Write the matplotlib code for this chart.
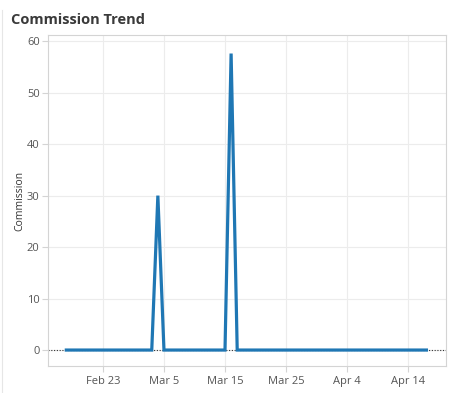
import matplotlib
matplotlib.use("Agg")
import matplotlib.pyplot as plt
import matplotlib.dates as mdates
import numpy as np
import pandas as pd

# Data
dates = pd.date_range("2013-02-17", "2013-04-17", freq="D")
spike_dates = ["2013-03-04", "2013-03-16"]
spike_values = [30.0, 57.6]
commission = pd.Series(0.0, index=dates)
for d, v in zip(spike_dates, spike_values):
    commission[pd.Timestamp(d)] = v

tick_dates = ["2013-02-23", "2013-03-05", "2013-03-15", "2013-03-25", "2013-04-04", "2013-04-14"]
tick_labels = ["Feb 23", "Mar 5", "Mar 15", "Mar 25", "Apr 4", "Apr 14"]
y_ticks = [0, 10, 20, 30, 40, 50, 60]

plt.rcParams['font.family'] = ['Open Sans', 'DejaVu Sans']

fig = plt.figure(figsize=(4.61, 3.93), dpi=100)
ax = fig.add_axes([48/461, 27/393, 398/461, 331/393])

ax.plot(commission.index, commission.values, color="#1f77b4", lw=2.3,
        solid_joinstyle="miter", zorder=3)
ax.axhline(0, color="#333333", lw=0.8, ls=(0, (1, 1.5)), zorder=2)

ax.set_xlim(pd.Timestamp("2013-02-14"), pd.Timestamp("2013-04-20 05:00"))
ax.set_ylim(-3.1, 61.2)

ax.set_xticks([pd.Timestamp(t) for t in tick_dates])
ax.set_xticklabels(tick_labels)
ax.set_yticks(y_ticks)

ax.grid(True, color="#ececec", lw=0.8, zorder=0)
ax.set_axisbelow(True)
for s in ax.spines.values():
    s.set_color("#d4d4d4")
    s.set_linewidth(0.8)

ax.tick_params(axis="both", colors="#d4d4d4", labelcolor="#555555",
               labelsize=8, length=4, width=0.8)
ax.tick_params(axis="y", pad=2)
ax.tick_params(axis="x", pad=3)

ax.set_ylabel("Commission", fontsize=7.5, color="#333333", labelpad=1)

fig.text(11/461, 1 - 20/393, "Commission Trend", fontsize=10.5, fontweight="bold",
         color="#3a3a3a", va="center", ha="left")

fig.add_artist(plt.Line2D([2/461, 2/461], [0, 1 - 10/393], color="#e6e6e6", lw=0.8))

fig.savefig("out.png", dpi=100)
